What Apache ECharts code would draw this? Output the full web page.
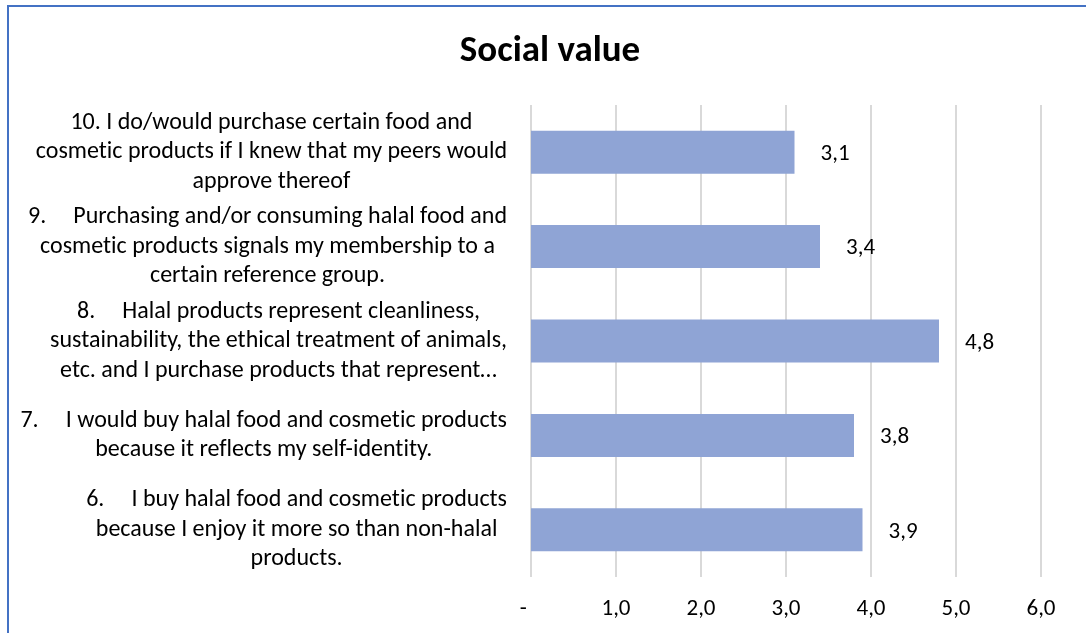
<!DOCTYPE html>
<html>
<head>
<meta charset="utf-8">
<script src="https://cdn.jsdelivr.net/npm/echarts@6/dist/echarts.min.js"></script>
<style>
  html, body { margin: 0; padding: 0; background: #fff; }
  #chart { width: 1086px; height: 633px; }
</style>
</head>
<body>
<div id="chart"></div>
<script>
// Survey statements (bottom to top on the category axis)
const statements = [
  '6.     I buy halal food and cosmetic products\nbecause I enjoy it more so than non-halal\nproducts.',
  '7.     I would buy halal food and cosmetic products\nbecause it reflects my self-identity.',
  '8.     Halal products represent cleanliness,\nsustainability, the ethical treatment of animals,\netc. and I purchase products that represent…',
  '9.     Purchasing and/or consuming halal food and\ncosmetic products signals my membership to a\ncertain reference group.',
  '10. I do/would purchase certain food and\ncosmetic products if I knew that my peers would\napprove thereof'
];

// Mean scores per statement
const meanScores = [3.9, 3.8, 4.8, 3.4, 3.1];

// Value axis tick labels (0..6)
const scoreTicks = ['-', '1,0', '2,0', '3,0', '4,0', '5,0', '6,0'];

const FONT = 'Carlito, "Open Sans", sans-serif';

// keep "ti" / "fl" as separate glyphs (no ligatures)
const noLig = (s) => s.replace(/t(?=i)/g, 't\u200c').replace(/f(?=[il])/g, 'f\u200c');

const chart = echarts.init(document.getElementById('chart'), null, { renderer: 'canvas' });

chart.setOption({
  animation: false,
  backgroundColor: '#ffffff',
  title: {
    text: 'Social value',
    left: 545,
    top: 28,
    textAlign: 'center',
    textStyle: { fontFamily: FONT, fontWeight: 'bold', fontSize: 37, color: '#000' }
  },
  graphic: [{
    type: 'rect',
    silent: true,
    shape: { x: 8, y: 6, width: 1200, height: 800 },
    style: { fill: 'none', stroke: '#4472C4', lineWidth: 2 }
  }],
  grid: { left: 531, right: 45, top: 105, bottom: 56, containLabel: false },
  xAxis: {
    type: 'value',
    min: 0,
    max: 6,
    interval: 1,
    axisLine: { show: false },
    axisTick: { show: false },
    splitLine: { show: true, lineStyle: { color: '#d9d9d9', width: 2 } },
    axisLabel: {
      margin: 21,
      fontFamily: FONT,
      fontSize: 23,
      color: '#000',
      // the zero dash sits slightly left of its gridline
      formatter: (v) => (v === 0 ? scoreTicks[0] + '   ' : scoreTicks[Math.round(v)])
    }
  },
  yAxis: {
    type: 'category',
    data: statements,
    axisLine: { show: false },
    axisTick: { show: false },
    axisLabel: {
      margin: 24,
      align: 'right',
      interval: 0,
      formatter: (s) => '{c|' + noLig(s) + '}',
      rich: {
        c: { align: 'center', fontFamily: FONT, fontSize: 24, lineHeight: 29.5, color: '#000' }
      }
    }
  },
  series: [{
    type: 'bar',
    data: meanScores,
    barWidth: '45.5%',
    itemStyle: { color: '#8FA4D5' },
    label: {
      show: true,
      position: 'right',
      distance: 26,
      offset: [0, 2],
      fontFamily: FONT,
      fontSize: 23,
      color: '#000',
      formatter: (p) => p.value.toFixed(1).replace('.', ',')
    }
  }]
});
</script>
</body>
</html>
